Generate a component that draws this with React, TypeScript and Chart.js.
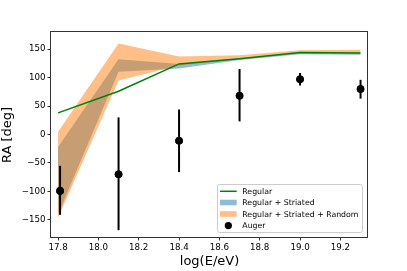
import React, { useEffect, useRef } from 'react';
import { Chart, registerables } from 'chart.js';

Chart.register(...registerables);

// ---- data ----
const energies = [17.8, 18.1, 18.4, 18.7, 19.0, 19.3];
const regular = [38, 76, 124, 133, 144, 143];
const striatedUpper = [-22, 132, 124, 134, 144, 143];
const striatedLower = [-140, 110, 116, 131, 141, 140];
const randomUpper = [5, 160, 137, 139, 148, 149];
const randomLower = [-146, 95, 121, 133, 143, 142];

const augerE = [17.81, 18.1, 18.4, 18.7, 19.0, 19.3];
const augerRA = [-99, -70, -11, 68, 97, 80];
const augerErrLow = [-141, -168, -66, 23, 86, 63];
const augerErrHigh = [-55, 30, 44, 115, 108, 96];

const xTicks = [17.8, 18.0, 18.2, 18.4, 18.6, 18.8, 19.0, 19.2];
const yTicks = [-150, -100, -50, 0, 50, 100, 150];

const seriesLabels = ['Regular', 'Regular + Striated', 'Regular + Striated + Random', 'Auger'];

const FONT = 'DejaVu Sans';
const GREEN = '#008000';
const BLUE_FILL = 'rgba(31,119,180,0.5)';
const ORANGE_FILL = 'rgba(255,127,14,0.5)';

const pts = (xs: number[], ys: number[]) => xs.map((x, i) => ({ x, y: ys[i] }));

const decorPlugin = {
  id: 'decor',
  afterDatasetsDraw(chart: any) {
    const { ctx, chartArea, scales } = chart;
    const xs = scales.x;
    const ys = scales.y;
    ctx.save();
    // error bars
    ctx.strokeStyle = '#000';
    ctx.lineWidth = 2;
    ctx.lineCap = 'butt';
    augerE.forEach((e, i) => {
      const px = xs.getPixelForValue(e);
      ctx.beginPath();
      ctx.moveTo(px, ys.getPixelForValue(augerErrLow[i]));
      ctx.lineTo(px, ys.getPixelForValue(augerErrHigh[i]));
      ctx.stroke();
    });
    // redraw points on top of error bars
    ctx.fillStyle = '#000';
    augerE.forEach((e, i) => {
      ctx.beginPath();
      ctx.arc(xs.getPixelForValue(e), ys.getPixelForValue(augerRA[i]), 3.8, 0, Math.PI * 2);
      ctx.fill();
    });
    ctx.restore();
  },
  afterDraw(chart: any) {
    const { ctx, chartArea } = chart;
    ctx.save();
    // frame
    ctx.strokeStyle = '#333';
    ctx.lineWidth = 1;
    ctx.strokeRect(
      Math.round(chartArea.left) - 0.5,
      Math.round(chartArea.top) - 0.5,
      Math.round(chartArea.right - chartArea.left) + 1,
      Math.round(chartArea.bottom - chartArea.top) + 1
    );
    // axis titles
    ctx.fillStyle = '#000';
    ctx.font = `13px "${FONT}"`;
    ctx.textAlign = 'center';
    ctx.textBaseline = 'middle';
    ctx.fillText('log(E/eV)', (chartArea.left + chartArea.right) / 2 + 0.5, 262);
    ctx.save();
    ctx.translate(7.5, (chartArea.top + chartArea.bottom) / 2 + 0.5);
    ctx.rotate(-Math.PI / 2);
    ctx.fillText('RA [deg]', 0, 0);
    ctx.restore();

    // legend
    const lx = 217.5, ly = 184.5, lw = 145, lh = 48;
    ctx.fillStyle = 'rgba(255,255,255,0.8)';
    ctx.strokeStyle = '#cccccc';
    ctx.lineWidth = 1;
    const r = 2;
    ctx.beginPath();
    ctx.moveTo(lx + r, ly);
    ctx.lineTo(lx + lw - r, ly);
    ctx.quadraticCurveTo(lx + lw, ly, lx + lw, ly + r);
    ctx.lineTo(lx + lw, ly + lh - r);
    ctx.quadraticCurveTo(lx + lw, ly + lh, lx + lw - r, ly + lh);
    ctx.lineTo(lx + r, ly + lh);
    ctx.quadraticCurveTo(lx, ly + lh, lx, ly + lh - r);
    ctx.lineTo(lx, ly + r);
    ctx.quadraticCurveTo(lx, ly, lx + r, ly);
    ctx.closePath();
    ctx.fill();
    ctx.stroke();

    const rows = [191.3, 202.5, 214, 225.6];
    const hx0 = 220, hx1 = 236.7, tx = 242.3;
    // Regular
    ctx.strokeStyle = GREEN;
    ctx.lineWidth = 1.5;
    ctx.beginPath();
    ctx.moveTo(hx0, rows[0]);
    ctx.lineTo(hx1, rows[0]);
    ctx.stroke();
    // patches
    ctx.fillStyle = BLUE_FILL;
    ctx.fillRect(hx0, rows[1] - 2.8, hx1 - hx0, 5.6);
    ctx.fillStyle = ORANGE_FILL;
    ctx.fillRect(hx0, rows[2] - 2.8, hx1 - hx0, 5.6);
    // Auger marker
    ctx.fillStyle = '#000';
    ctx.beginPath();
    ctx.arc((hx0 + hx1) / 2, rows[3], 3.6, 0, Math.PI * 2);
    ctx.fill();

    ctx.fillStyle = '#000';
    ctx.font = `7.8px "${FONT}"`;
    ctx.textAlign = 'left';
    ctx.textBaseline = 'middle';
    seriesLabels.forEach((t, i) => ctx.fillText(t, tx, rows[i] + 0.5));
    ctx.restore();
  },
};

export default function App() {
  const ref = useRef<HTMLCanvasElement | null>(null);
  useEffect(() => {
    if (!ref.current) return;
    const tickFont = { family: FONT, size: 8.7 };
    const chart = new Chart(ref.current, {
      type: 'line',
      data: {
        datasets: [
          {
            label: seriesLabels[0],
            data: pts(energies, regular),
            borderColor: GREEN,
            borderWidth: 1.5,
            pointRadius: 0,
            fill: false,
            order: 0,
          } as any,
          {
            type: 'scatter',
            label: seriesLabels[3],
            data: pts(augerE, augerRA),
            backgroundColor: '#000',
            borderColor: '#000',
            pointRadius: 3.8,
            borderWidth: 0,
            order: 0,
          } as any,
          {
            label: seriesLabels[2],
            data: pts(energies, randomUpper),
            borderWidth: 0,
            borderColor: 'rgba(0,0,0,0)',
            backgroundColor: ORANGE_FILL,
            pointRadius: 0,
            fill: '+1',
            order: 1,
          } as any,
          {
            label: seriesLabels[2] + ' lower',
            data: pts(energies, randomLower),
            borderWidth: 0,
            borderColor: 'rgba(0,0,0,0)',
            pointRadius: 0,
            fill: false,
            order: 1,
          } as any,
          {
            label: seriesLabels[1],
            data: pts(energies, striatedUpper),
            borderWidth: 0,
            borderColor: 'rgba(0,0,0,0)',
            backgroundColor: BLUE_FILL,
            pointRadius: 0,
            fill: '+1',
            order: 2,
          } as any,
          {
            label: seriesLabels[1] + ' lower',
            data: pts(energies, striatedLower),
            borderWidth: 0,
            borderColor: 'rgba(0,0,0,0)',
            pointRadius: 0,
            fill: false,
            order: 2,
          } as any,
        ],
      },
      options: {
        animation: false,
        responsive: false,
        maintainAspectRatio: false,
        layout: { padding: { top: 32, right: 40, left: 0, bottom: 0 } },
        plugins: {
          legend: { display: false },
          tooltip: { enabled: false },
          title: { display: false },
        },
        scales: {
          x: {
            type: 'linear',
            min: 17.765,
            max: 19.332,
            afterBuildTicks: (s: any) => {
              s.ticks = xTicks.map((v) => ({ value: v }));
            },
            afterFit: (s: any) => {
              s.height = 34;
            },
            ticks: {
              font: tickFont,
              color: '#000',
              padding: 2,
              maxRotation: 0,
              autoSkip: false,
              callback: (v: any) => Number(v).toFixed(1),
            },
            grid: { drawOnChartArea: false, drawTicks: true, tickLength: 3.5, color: '#000', lineWidth: 0.8 },
            border: { display: false },
          },
          y: {
            type: 'linear',
            min: -180,
            max: 180,
            afterBuildTicks: (s: any) => {
              s.ticks = yTicks.map((v) => ({ value: v }));
            },
            afterFit: (s: any) => {
              s.width = 51;
            },
            ticks: {
              font: tickFont,
              color: '#000',
              padding: 2,
              autoSkip: false,
              callback: (v: any) => String(v).replace('-', '\u2212'),
            },
            grid: { drawOnChartArea: false, drawTicks: true, tickLength: 3.5, color: '#000', lineWidth: 0.8 },
            border: { display: false },
          },
        },
      },
      plugins: [decorPlugin],
    });
    return () => chart.destroy();
  }, []);
  return (
    <div style={{ position: 'absolute', left: 0, top: 0, width: 407, height: 271, background: '#fff' }}>
      <canvas ref={ref} width={407} height={271} style={{ display: 'block' }} />
    </div>
  );
}
